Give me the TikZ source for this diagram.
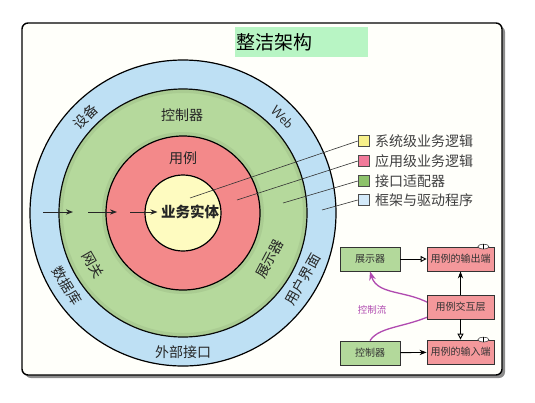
\documentclass[tikz,border=0pt]{standalone}
\usepackage{fontspec}
\newfontfamily\cjk{Noto Sans CJK SC}
\usepackage{xcolor}
\usepackage{tikz}
\usetikzlibrary{arrows.meta, positioning, calc, shapes.geometric}

\definecolor{ringblue}{HTML}{BEE0F4}
\definecolor{ringgreen}{HTML}{B5D99C}
\definecolor{ringred}{HTML}{F3898A}
\definecolor{ringyellow}{HTML}{FEFBC0}
\definecolor{keyyellow}{HTML}{F7F08A}
\definecolor{keypink}{HTML}{F17A99}
\definecolor{keygreen}{HTML}{8DC26A}
\definecolor{keyblue}{HTML}{D3E9F9}
\definecolor{boxgreen}{HTML}{B3D99B}
\definecolor{boxpink}{HTML}{F4989B}
\definecolor{flowpurple}{HTML}{B04AB0}
\definecolor{titlegreen}{HTML}{B8F5C4}

\tikzset{
  ringlabel/.style={font=\fontsize{14}{16}\selectfont\cjk, text=black!85},
  keybox/.style={draw=black!70, line width=0.6pt, minimum size=11pt, inner sep=0pt},
  keytext/.style={font=\fontsize{14}{16}\selectfont\cjk, text=black!75, anchor=west, inner sep=0pt},
  layerbox/.style={draw=black!80, line width=0.8pt, minimum height=24pt, inner sep=0pt,
    font=\fontsize{10}{12}\selectfont\cjk, text=black!80},
  portsym/.style={draw=black!80, fill=white, line width=0.5pt, ellipse, inner sep=0pt,
    minimum width=11pt, minimum height=5pt}
}

\begin{document}
\begin{tikzpicture}[x=1pt, y=-1pt, >=Stealth, font=\cjk]
\useasboundingbox (0,0) rectangle (535,402);

% ── Frame and title ─────────────────────────────────────────────
\fill[black!45, rounded corners=6pt] (25,26) rectangle (505,378);
\draw[line width=1.4pt, fill=white!98!yellow, rounded corners=6pt] (22,23) rectangle (502,375);
\fill[titlegreen] (235,27) rectangle (368,57);
\node[anchor=west, inner sep=0pt, font=\fontsize{19}{22}\selectfont\cjk] (title) at (236,42) {整洁架构};

% ── Onion rings ─────────────────────────────────────────────────
\coordinate (C) at (183,213);
\draw[line width=1.2pt, fill=ringblue] (C) circle (153pt);
\draw[line width=1.2pt, fill=ringgreen] (C) circle (124pt);
\draw[ringgreen!60!black, opacity=0.15, line width=4pt] (C) circle (79pt);
\draw[ringgreen!60!black, opacity=0.15, line width=4pt] (C) circle (122pt);
\draw[line width=1.2pt, fill=ringred] (C) circle (77pt);
\draw[line width=1.2pt, fill=ringyellow] (C) circle (38pt);

% Ring labels
\node[ringlabel] (ctlA) at (182,115) {控制器};
\node[ringlabel] (usecase) at (183,158) {用例};
\node[ringlabel, font=\fontsize{14.5}{16}\selectfont\cjk\bfseries] (entity) at (190,212) {业务实体};
\node[ringlabel, rotate=45] (device) at ($(C)+(135.5:137pt)$) {设备};
\node[ringlabel, rotate=-46, font=\fontsize{14}{16}\selectfont\sffamily] (web) at ($(C)+(44:138pt)$) {Web};
\node[ringlabel, rotate=-60] (gateway) at ($(C)+(210:104pt)$) {网关};
\node[ringlabel, rotate=62] (presA) at ($(C)+(-28:98pt)$) {展示器};
\node[ringlabel, rotate=61] (ui) at ($(C)+(-29:137pt)$) {用户界面};
\node[ringlabel, rotate=-58] (db) at ($(C)+(212:137pt)$) {数据库};
\node[ringlabel] (extif) at (183,352) {外部接口};

% Dependency arrows pointing inwards
\coordinate (a1) at (43,212);
\coordinate (a2) at (73,212);
\coordinate (a3) at (88,212);
\coordinate (a4) at (117,212);
\coordinate (a5) at (130,212);
\draw[->, line width=0.9pt, black!85] (a1) -- (a2);
\draw[->, line width=0.9pt, black!85] (a3) -- (a4);
\draw[->, line width=0.9pt, black!85] (a5) -- (entity.west);

% ── Legend ──────────────────────────────────────────────────────
\foreach \i/\col/\y/\txt in {1/keyyellow/141/系统级业务逻辑, 2/keypink/161/应用级业务逻辑,
                              3/keygreen/181/接口适配器, 4/keyblue/200/框架与驱动程序} {
    \node[keybox, fill=\col] (key\i) at (363.5,\y) {};
    \node[keytext] (keytxt\i) at (375,\y) {\txt};
}
\coordinate (p1) at (190,198);
\coordinate (p2) at (237,200);
\coordinate (p3) at (283,203);
\coordinate (p4) at (322,210);
\foreach \i in {1,...,4}
    \draw[line width=0.6pt, black!80] (p\i) -- (key\i.west);

% ── Flow of control ─────────────────────────────────────────────
\node[layerbox, fill=boxgreen, minimum width=60pt] (pres) at (370,259) {展示器};
\node[layerbox, fill=boxgreen, minimum width=60pt] (ctl) at (370,353) {控制器};

\draw[flowpurple, line width=1.3pt, ->]
    (ctl.north) .. controls (380,325) and (410,328) .. (440,311)
                .. controls (415,288) and (378,298) .. (pres.south);
\node[text=flowpurple, font=\fontsize{9.5}{11}\selectfont\cjk] (flow) at (372,310) {控制流};

\node[layerbox, fill=boxpink, minimum width=67pt] (out) at (460.5,259) {用例的输出端};
\node[layerbox, fill=boxpink, minimum width=67pt] (inter) at (460.5,307) {用例交互层};
\node[layerbox, fill=boxpink, minimum width=67pt] (in) at (460.5,352) {用例的输入端};
\node[portsym, xshift=-11pt] (outport) at (out.north east) {};
\node[portsym, xshift=-11pt] (inport) at (in.north east) {};
\draw[line width=0.5pt] (outport.north) -- (outport.south);
\draw[line width=0.5pt] (inport.north) -- (inport.south);

\draw[-{Triangle[open, length=6pt, width=6pt]}, line width=0.9pt] (pres) -- (out);
\draw[->, line width=0.9pt] (ctl) -- (in);
\draw[->, line width=0.9pt] (inter) -- (out);
\draw[-{Triangle[open, length=6pt, width=6pt]}, line width=0.9pt] (inter) -- (in);

\end{tikzpicture}
\end{document}
